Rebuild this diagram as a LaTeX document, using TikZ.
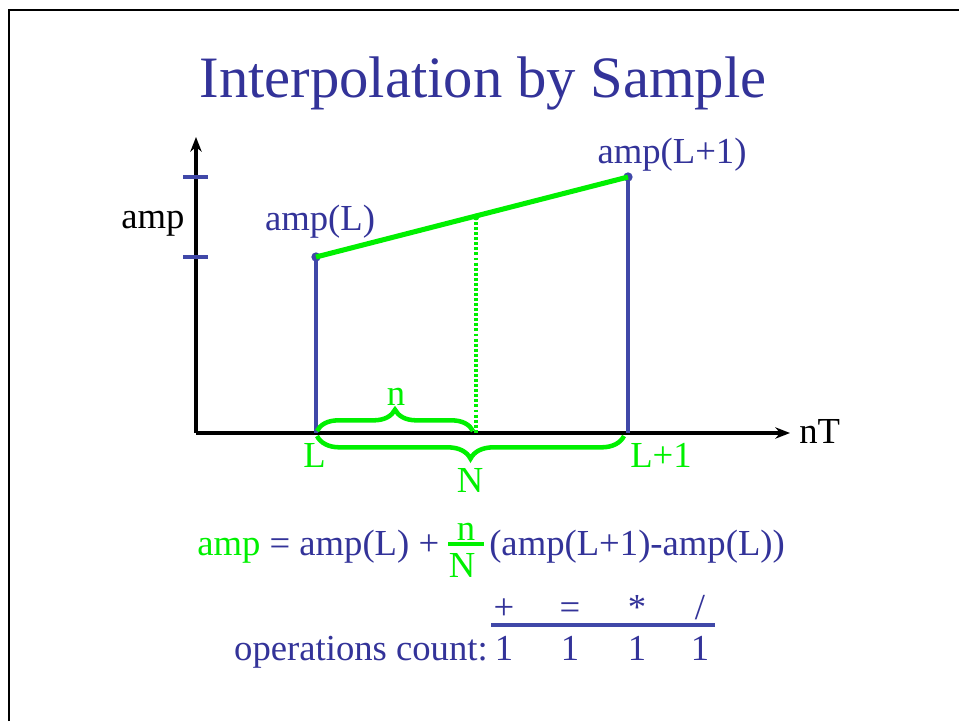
\documentclass[tikz,border=0pt]{standalone}
\usepackage{fontspec}
\setmainfont{Liberation Serif}
\usepackage{xcolor}
\usepackage{tikz}
\usetikzlibrary{positioning, arrows.meta, decorations.pathreplacing}
\definecolor{slideblue}{HTML}{333399}
\definecolor{lineblue}{HTML}{4048A8}
\definecolor{brightgreen}{HTML}{00F000}

\tikzset{
  lbl/.style={font=\fontsize{27.5}{33}\selectfont, inner sep=0pt, anchor=base},
  axis/.style={line width=2.7pt, -{Stealth[length=11pt, width=8.5pt, inset=3.5pt]}},
  sample/.style={line width=2.8pt, draw=lineblue},
  dot/.style={circle, fill=lineblue, inner sep=0pt, minimum size=7pt},
  interp/.style={line width=3.8pt, draw=brightgreen},
  brace/.style={line width=3.4pt, draw=brightgreen, decorate,
                decoration={brace, amplitude=16pt}}
}

\begin{document}
\begin{tikzpicture}[x=0.75pt, y=-0.75pt]
    \useasboundingbox (0,0) rectangle (959,721);
    \draw[line width=2.2pt] (9,721) -- (9,10) -- (959,10);

    \node[lbl, font=\fontsize{44}{50}\selectfont, text=slideblue] (title) at (483,97) {Interpolation by Sample};

    % axes
    \coordinate (origin) at (196,433);
    \coordinate (ytop) at (196,137);
    \coordinate (xend) at (790,433);
    \draw[axis] (origin) -- (ytop);
    \draw[axis] (origin) -- (xend);
    \node[lbl, anchor=base west] (xlabel) at (799,443) {nT};
    \node[lbl] (ylabel) at (153,228) {amp};
    \draw[sample] (183,177) -- (208,177);
    \draw[sample] (183,257) -- (208,257);

    % samples
    \node[dot] (ampL) at (316,257) {};
    \node[dot] (ampL1) at (628,177) {};
    \draw[sample] (ampL.center) -- (ampL.center |- origin);
    \draw[sample] (ampL1.center) -- (ampL1.center |- origin);
    \node[lbl, text=slideblue] (ampLlabel) at (320,230) {amp(L)};
    \node[lbl, text=slideblue] (ampL1label) at (672,163) {amp(L+1)};

    \draw[interp] (ampL.center) -- (ampL1.center);
    \node[dot, fill=brightgreen, minimum size=5pt] (mid) at (476,217) {};
    \draw[brightgreen, line width=2.8pt, dash pattern=on 2.2pt off 1.6pt] (mid.center) -- (mid.center |- origin);

    \draw[brace] (317,431) -- (473,431);
    \draw[brace, decoration={amplitude=17pt}] (624,436) -- (317,436);
    \node[lbl, text=brightgreen] (nlabel) at (396,405) {n};
    \node[lbl, text=brightgreen] (Nlabel) at (470,492) {N};
    \node[lbl, text=brightgreen, anchor=base west] (Llabel) at (303,467) {L};
    \node[lbl, text=brightgreen, anchor=base west] (L1label) at (630,467) {L+1};

    % formula
    \node[lbl, anchor=base west, text=slideblue] (eqlhs) at (197,555) {\textcolor{brightgreen}{amp} = amp(L) +};
    \node[lbl, text=brightgreen] (fracn) at (466,540) {n};
    \node[lbl, text=brightgreen] (fracN) at (462,577) {N};
    \draw[brightgreen, line width=2.6pt] (448,544) -- (484,544);
    \node[lbl, anchor=base west, text=slideblue] (eqrhs) at (489,555) {(amp(L+1)-amp(L))};

    % operations
    \node[lbl, text=slideblue] (opadd) at (504,619) {+};
    \node[lbl, text=slideblue] (opeq) at (570,619) {=};
    \node[lbl, text=slideblue] (opmul) at (637,619) {*};
    \node[lbl, text=slideblue] (opdiv) at (700,619) {/};
    \draw[sample] (491,625) -- (715,625);
    \node[lbl, anchor=base east, text=slideblue] (opcount) at (488,660) {operations count:};
    \foreach \x [count=\i] in {504,570,637,700}
      \node[lbl, text=slideblue] (count\i) at (\x,660) {1};
\end{tikzpicture}
\end{document}
